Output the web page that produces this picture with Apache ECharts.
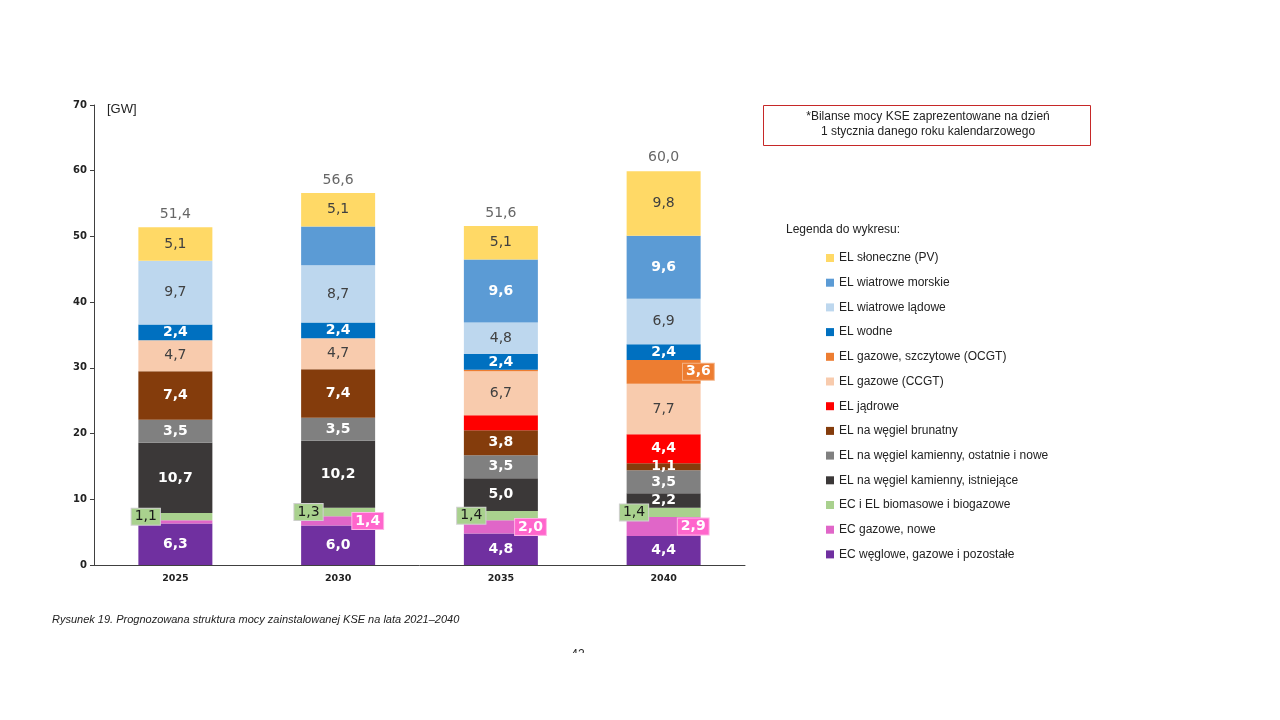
<!DOCTYPE html>
<html>
<head>
<meta charset="utf-8">
<title>Prognozowana struktura mocy zainstalowanej KSE</title>
<script src="https://cdn.jsdelivr.net/npm/echarts@6/dist/echarts.min.js"></script>
<style>
  html, body { margin: 0; padding: 0; background: #fff; }
  #chart { width: 1280px; height: 720px; }
</style>
</head>
<body>
<div id="chart"></div>
<script>
const years = ['2025', '2030', '2035', '2040']

// stacked from the bottom up [GW]
const ecWeglowe = [6.3, 6.0, 4.8, 4.4]
const ecGazoweNowe = [0.5, 1.4, 2.0, 2.9]
const biomasa = [1.1, 1.3, 1.4, 1.4]
const kamiennyIstniejace = [10.7, 10.2, 5.0, 2.2]
const kamiennyNowe = [3.5, 3.5, 3.5, 3.5]
const brunatny = [7.4, 7.4, 3.8, 1.1]
const jadrowe = [0, 0, 2.3, 4.4]
const ccgt = [4.7, 4.7, 6.7, 7.7]
const ocgt = [0, 0, 0.2, 3.6]
const wodne = [2.4, 2.4, 2.4, 2.4]
const wiatroweLadowe = [9.7, 8.7, 4.8, 6.9]
const wiatroweMorskie = [0, 5.9, 9.6, 9.6]
const sloneczne = [5.1, 5.1, 5.1, 9.8]
const totals = [51.4, 56.6, 51.6, 60.0]

const yTicks = [0, 10, 20, 30, 40, 50, 60, 70]

// segments that carry no number in the original figure: [series, year]
const unlabeled = [[1, 0], [6, 2], [8, 2], [11, 1]]

const fmt = (v) => v.toFixed(1).replace('.', ',')

const dark = { color: '#404040', fontWeight: 'normal' }
const light = { color: '#ffffff', fontWeight: 'bold' }

const series = [
  { name: 'EC węglowe, gazowe i pozostałe', data: ecWeglowe, color: '#7030A0', label: light },
  {
    name: 'EC gazowe, nowe', data: ecGazoweNowe, color: '#E066C8',
    label: {
      color: '#fff', fontWeight: 'bold', position: ['90%', '50%'], align: 'center', verticalAlign: 'middle',
      backgroundColor: '#FF66CC', borderColor: '#ffb3e6', borderWidth: 1, padding: [1, 3],
    },
  },
  {
    name: 'EC i EL biomasowe i biogazowe', data: biomasa, color: '#A9D18E',
    label: {
      color: '#1a1a1a', fontWeight: 'normal', position: ['10%', '50%'], align: 'center', verticalAlign: 'middle',
      backgroundColor: '#A9D18E', borderColor: '#d0d0d0', borderWidth: 1, padding: [1, 3],
    },
  },
  { name: 'EL na węgiel kamienny, istniejące', data: kamiennyIstniejace, color: '#3B3838', label: light },
  { name: 'EL na węgiel kamienny, ostatnie i nowe', data: kamiennyNowe, color: '#808080', label: light },
  { name: 'EL na węgiel brunatny', data: brunatny, color: '#843C0C', label: light },
  { name: 'EL jądrowe', data: jadrowe, color: '#FF0000', label: light },
  { name: 'EL gazowe (CCGT)', data: ccgt, color: '#F8CBAD', label: dark },
  {
    name: 'EL gazowe, szczytowe (OCGT)', data: ocgt, color: '#ED7D31',
    label: {
      color: '#fff', fontWeight: 'bold', position: ['97%', '50%'], align: 'center', verticalAlign: 'middle',
      backgroundColor: '#ED7D31', borderColor: '#f4b183', borderWidth: 1, padding: [1, 3],
    },
  },
  { name: 'EL wodne', data: wodne, color: '#0070C0', label: light },
  { name: 'EL wiatrowe lądowe', data: wiatroweLadowe, color: '#BDD7EE', label: dark },
  { name: 'EL wiatrowe morskie', data: wiatroweMorskie, color: '#5B9BD5', label: light },
  { name: 'EL słoneczne (PV)', data: sloneczne, color: '#FFD966', label: dark },
]

const isUnlabeled = (s, i) => unlabeled.some(([a, b]) => a === s && b === i)

const barSeries = series.map((s, si) => ({
  name: s.name,
  type: 'bar',
  stack: 'moc',
  barWidth: 74,
  itemStyle: { color: s.color },
  label: {
    show: true,
    position: 'inside',
    fontFamily: 'DejaVu Sans',
    fontSize: 14,
    formatter: (p) => fmt(p.value),
    ...s.label,
  },
  data: s.data.map((v, i) => (v === 0 || isUnlabeled(si, i)
    ? { value: v, label: { show: false } }
    : v)),
}))

const chart = echarts.init(document.getElementById('chart'))

chart.setOption({
  animation: false,
  backgroundColor: '#ffffff',
  textStyle: { fontFamily: 'Liberation Sans' },
  grid: { left: 94, right: 535, top: 105, bottom: 155 },
  legend: {
    orient: 'vertical',
    left: 826,
    top: 251,
    padding: 0,
    itemWidth: 8,
    itemHeight: 8,
    itemGap: 10.7,
    icon: 'rect',
    selectedMode: false,
    textStyle: { fontSize: 12, color: '#222', lineHeight: 14, fontFamily: 'Liberation Sans' },
    data: series.map((s) => s.name).reverse(),
  },
  xAxis: {
    type: 'category',
    data: years,
    axisLine: { lineStyle: { color: '#404040', width: 1 } },
    axisTick: { show: false },
    axisLabel: { color: '#222', fontSize: 9.5, fontWeight: 'bold', fontFamily: 'DejaVu Sans', margin: 9 },
  },
  yAxis: {
    type: 'value',
    min: yTicks[0],
    max: yTicks[yTicks.length - 1],
    interval: 10,
    axisLine: { show: true, lineStyle: { color: '#404040', width: 1 } },
    axisTick: { show: true, length: 4, lineStyle: { color: '#404040' } },
    splitLine: { show: false },
    axisLabel: { color: '#222', fontSize: 10, fontWeight: 'bold', fontFamily: 'DejaVu Sans', margin: 7 },
  },
  series: [
    ...barSeries,
    {
      name: 'Suma',
      type: 'scatter',
      symbolSize: 0,
      z: 10,
      data: totals,
      label: {
        show: true,
        position: 'top',
        distance: 6,
        color: '#404040',
        fontSize: 14,
        fontFamily: 'DejaVu Sans',
        formatter: (p) => fmt(p.value),
      },
    },
  ],
  graphic: [
    {
      type: 'text', left: 107, top: 103,
      style: { text: '[GW]', fontSize: 13, fill: '#222', fontFamily: 'Liberation Sans' },
    },
    {
      type: 'rect',
      shape: { x: 763.5, y: 105.5, width: 327, height: 40 },
      style: { fill: 'none', stroke: '#C62828', lineWidth: 1 },
    },
    {
      type: 'text', x: 928, y: 117,
      style: {
        text: '*Bilanse mocy KSE zaprezentowane na dzień', fontSize: 12, fill: '#222',
        align: 'center', verticalAlign: 'middle', fontFamily: 'Liberation Sans',
      },
    },
    {
      type: 'text', x: 928, y: 132,
      style: {
        text: '1 stycznia danego roku kalendarzowego', fontSize: 12, fill: '#222',
        align: 'center', verticalAlign: 'middle', fontFamily: 'Liberation Sans',
      },
    },
    {
      type: 'text', x: 786, y: 230,
      style: { text: 'Legenda do wykresu:', fontSize: 12, fill: '#222', verticalAlign: 'middle', fontFamily: 'Liberation Sans' },
    },
    {
      type: 'text', x: 52, y: 620,
      style: {
        text: 'Rysunek 19. Prognozowana struktura mocy zainstalowanej KSE na lata 2021–2040',
        fontSize: 11, fontStyle: 'italic', fill: '#222', verticalAlign: 'middle', fontFamily: 'Liberation Sans',
      },
    },
    {
      type: 'text', x: 578, y: 655, z: 1,
      style: { text: '42', fontSize: 12, fill: '#222', align: 'center', verticalAlign: 'middle', fontFamily: 'Liberation Sans' },
    },
    {
      type: 'rect', z: 2,
      shape: { x: 560, y: 653, width: 40, height: 20 },
      style: { fill: '#ffffff' },
    },
  ],
})
</script>
</body>
</html>
